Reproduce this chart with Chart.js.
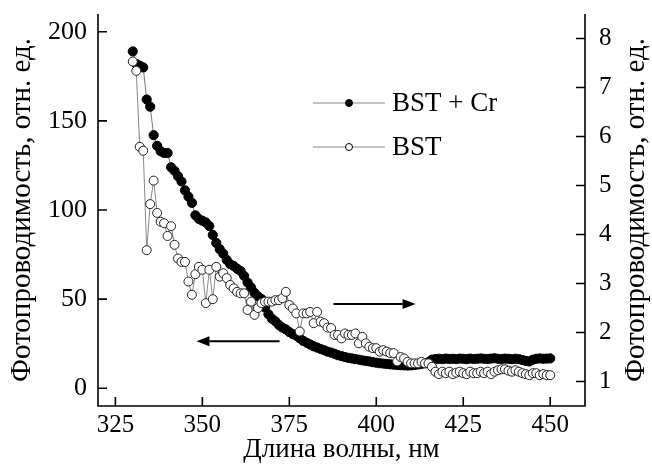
<!DOCTYPE html>
<html>
<head>
<meta charset="utf-8">
<script src="https://cdn.jsdelivr.net/npm/chart.js@4.4.0/dist/chart.umd.min.js"></script>
<style>
    html, body { margin: 0; padding: 0; background: #fff; }
    #caixa { width: 652px; height: 466px; }
</style>
</head>
<body>
<div id="caixa"><canvas id="grafico" width="652" height="466"></canvas></div>
<script>
// длина волны, нм
const dlinaVolny = [
    330, 331, 332, 333, 334, 335, 336, 337, 338, 339,
    340, 341, 342, 343, 344, 345, 346, 347, 348, 349,
    350, 351, 352, 353, 354, 355, 356, 357, 358, 359,
    360, 361, 362, 363, 364, 365, 366, 367, 368, 369,
    370, 371, 372, 373, 374, 375, 376, 377, 378, 379,
    380, 381, 382, 383, 384, 385, 386, 387, 388, 389,
    390, 391, 392, 393, 394, 395, 396, 397, 398, 399,
    400, 401, 402, 403, 404, 405, 406, 407, 408, 409,
    410, 411, 412, 413, 414, 415, 416, 417, 418, 419,
    420, 421, 422, 423, 424, 425, 426, 427, 428, 429,
    430, 431, 432, 433, 434, 435, 436, 437, 438, 439,
    440, 441, 442, 443, 444, 445, 446, 447, 448, 449,
    450
];

// BST + Cr, левая ось
const bstCr = [
    189, 182, 181, 180, 162, 158, 142, 136, 133, 132,
    132, 124, 122, 119, 116, 111, 107.5, 104, 97, 95,
    94, 93, 91, 86, 81.5, 78, 75.5, 72, 69.6, 68.6,
    67, 65.8, 63, 59.3, 56.5, 53.5, 51.5, 50, 45.3, 41.5,
    39, 37.5, 35.5, 34, 33, 31.5, 30.3, 29.5, 28, 26.5,
    25.5, 24.5, 23.5, 22.8, 22, 21.3, 20.5, 20, 19.3, 18.5,
    18, 17.5, 17, 16.7, 16.3, 16, 15.6, 15.3, 15, 14.6,
    14.3, 14, 13.8, 13.6, 13.4, 13.2, 13, 12.9, 12.8, 12.7,
    12.8, 13, 13.3, 13.6, 14, 14.6, 16, 16.3, 16.5, 16.3,
    16.6, 16.4, 16.5, 16.3, 16.6, 16.5, 16.3, 16.6, 16.4, 16.5,
    16.7, 16.5, 16.4, 16.6, 16.8, 16.5, 16.4, 16.6, 16.5, 16.3,
    16.5, 16.3, 15.8, 15.3, 15, 16, 16.5, 16.7, 16.5, 16.6,
    16.7
];

// BST, правая ось
const bst = [
    7.53, 7.34, 5.79, 5.71, 3.68, 4.62, 5.1, 4.44, 4.26, 4.23,
    3.97, 4.17, 3.79, 3.51, 3.44, 3.44, 3.04, 2.77, 3.19, 3.34,
    3.28, 2.6, 3.28, 2.68, 3.34, 3.14, 3.21, 3.11, 2.97, 2.9,
    2.83, 2.8, 2.8, 2.46, 2.63, 2.36, 2.5, 2.6, 2.63, 2.63,
    2.63, 2.66, 2.66, 2.7, 2.83, 2.56, 2.49, 2.39, 2.02, 2.39,
    2.39, 2.42, 2.19, 2.42, 2.22, 2.19, 2.1, 2.09, 1.95, 1.95,
    1.88, 1.98, 1.95, 1.95, 1.98, 1.78, 1.91, 1.78, 1.71, 1.68,
    1.68, 1.61, 1.64, 1.61, 1.58, 1.58, 1.41, 1.5, 1.47, 1.4,
    1.37, 1.37, 1.37, 1.4, 1.37, 1.37, 1.3, 1.2, 1.15, 1.2,
    1.17, 1.2, 1.15, 1.18, 1.2, 1.17, 1.15, 1.2, 1.17, 1.17,
    1.2, 1.17, 1.2, 1.15, 1.2, 1.23, 1.25, 1.25, 1.22, 1.2,
    1.23, 1.2, 1.17, 1.15, 1.13, 1.17, 1.17, 1.13, 1.15, 1.13,
    1.13
];

const ticksX = [325, 350, 375, 400, 425, 450];
const ticksEsq = [0, 50, 100, 150, 200];
const ticksDir = [1, 2, 3, 4, 5, 6, 7, 8];

const tituloY = "Фотопроводимость, отн. ед.";
const tituloX = "Длина волны, нм";

const fonte = "'Liberation Serif', 'Times New Roman', serif";

function pontos(xs, ys) {
    return xs.map((x, i) => ({ x: x, y: ys[i] }));
}

function fixarTicks(lista) {
    return function (escala) {
        escala.ticks = lista.map(v => ({ value: v }));
    };
}

// largura fixa do eixo vertical e sem folga extra em cima/embaixo
function larguraFixa(w) {
    return function (escala) {
        escala.width = w;
        escala.paddingTop = 0;
        escala.paddingBottom = 0;
    };
}

// seta simples entre dois pontos
function seta(ctx, x1, y1, x2, y2) {
    const ang = Math.atan2(y2 - y1, x2 - x1);
    const cab = 13;
    ctx.beginPath();
    ctx.moveTo(x1, y1);
    ctx.lineTo(x2 - cab * Math.cos(ang), y2 - cab * Math.sin(ang));
    ctx.stroke();
    ctx.beginPath();
    ctx.moveTo(x2, y2);
    ctx.lineTo(x2 - cab * Math.cos(ang) + 5 * Math.sin(ang), y2 - cab * Math.sin(ang) - 5 * Math.cos(ang));
    ctx.lineTo(x2 - cab * Math.cos(ang) - 5 * Math.sin(ang), y2 - cab * Math.sin(ang) + 5 * Math.cos(ang));
    ctx.closePath();
    ctx.fill();
}

const extras = {
    id: "extras",
    afterDraw(chart) {
        const ctx = chart.ctx;
        const { left, right, top, bottom } = chart.chartArea;
        const sx = chart.scales.x;
        const se = chart.scales.yEsq;
        const sd = chart.scales.yDir;

        ctx.save();
        ctx.strokeStyle = "#000";
        ctx.fillStyle = "#000";
        ctx.lineWidth = 1.6;

        // eixos (sem linha de cima)
        ctx.beginPath();
        ctx.moveTo(left, top);
        ctx.lineTo(left, bottom);
        ctx.lineTo(right, bottom);
        ctx.lineTo(right, top);
        ctx.stroke();

        // ticks para dentro
        const tl = 9;
        ctx.beginPath();
        ticksX.forEach(v => {
            const p = sx.getPixelForValue(v);
            ctx.moveTo(p, bottom);
            ctx.lineTo(p, bottom - tl);
        });
        ticksEsq.forEach(v => {
            const p = se.getPixelForValue(v);
            ctx.moveTo(left, p);
            ctx.lineTo(left + tl, p);
        });
        ticksDir.forEach(v => {
            const p = sd.getPixelForValue(v);
            ctx.moveTo(right, p);
            ctx.lineTo(right - tl, p);
        });
        ctx.stroke();

        // setas indicando o eixo de cada curva
        ctx.lineWidth = 2;
        seta(ctx, sx.getPixelForValue(372.2), se.getPixelForValue(26.4),
                  sx.getPixelForValue(348.3), se.getPixelForValue(26.4));
        seta(ctx, sx.getPixelForValue(387.7), sd.getPixelForValue(2.58),
                  sx.getPixelForValue(411.3), sd.getPixelForValue(2.58));

        // legenda
        const itens = chart.data.datasets;
        const lx = 313, lw = 72;
        const ly = [103, 147];
        ctx.font = "27px " + fonte;
        ctx.textBaseline = "middle";
        ctx.textAlign = "left";
        itens.slice().sort((a, b) => a.ordemLegenda - b.ordemLegenda).forEach((ds, i) => {
            ctx.strokeStyle = "#888";
            ctx.lineWidth = 1;
            ctx.beginPath();
            ctx.moveTo(lx, ly[i]);
            ctx.lineTo(lx + lw, ly[i]);
            ctx.stroke();
            ctx.beginPath();
            ctx.arc(lx + lw / 2, ly[i], 3.5, 0, Math.PI * 2);
            ctx.fillStyle = ds.pointBackgroundColor;
            ctx.fill();
            ctx.strokeStyle = "#000";
            ctx.stroke();
            ctx.fillStyle = "#000";
            ctx.fillText(ds.label, lx + lw + 7, ly[i] + 1);
        });

        // título do eixo direito, lido de baixo para cima
        ctx.font = "29px " + fonte;
        ctx.textAlign = "center";
        ctx.translate(636, (top + bottom) / 2);
        ctx.rotate(-Math.PI / 2);
        ctx.fillText(tituloY, 0, 0);
        ctx.restore();
    }
};

new Chart(document.getElementById("grafico"), {
    type: "line",
    data: {
        datasets: [
            {
                label: "BST",
                ordemLegenda: 1,
                data: pontos(dlinaVolny, bst),
                yAxisID: "yDir",
                borderColor: "#888",
                borderWidth: 1,
                pointRadius: 4.5,
                pointBorderWidth: 1,
                pointBorderColor: "#222",
                pointBackgroundColor: "#fff",
                tension: 0,
                order: 1
            },
            {
                label: "BST + Cr",
                ordemLegenda: 0,
                data: pontos(dlinaVolny, bstCr),
                yAxisID: "yEsq",
                borderColor: "#777",
                borderWidth: 1,
                pointRadius: 4.6,
                pointBorderWidth: 1,
                pointBorderColor: "#000",
                pointBackgroundColor: "#000",
                tension: 0,
                order: 2
            }
        ]
    },
    options: {
        responsive: false,
        animation: false,
        layout: { padding: { top: 14, left: 0, right: 0, bottom: 0 } },
        plugins: {
            legend: { display: false },
            tooltip: { enabled: false }
        },
        scales: {
            x: {
                type: "linear",
                min: 320,
                max: 460,
                afterBuildTicks: fixarTicks(ticksX),
                afterFit: s => { s.height = 60; },
                grid: { display: false, drawTicks: false },
                border: { display: false },
                ticks: { color: "#000", padding: 4, font: { family: fonte, size: 25 } },
                title: { display: true, text: tituloX, color: "#000", padding: 0, font: { family: fonte, size: 27 } }
            },
            yEsq: {
                type: "linear",
                position: "left",
                min: -10,
                max: 210,
                afterBuildTicks: fixarTicks(ticksEsq),
                afterFit: larguraFixa(98),
                grid: { display: false, drawTicks: false },
                border: { display: false },
                ticks: { color: "#000", padding: 11, font: { family: fonte, size: 26 } },
                title: { display: true, text: tituloY, color: "#000", padding: { top: 5 }, font: { family: fonte, size: 29 } }
            },
            yDir: {
                type: "linear",
                position: "right",
                min: 0.5,
                max: 8.5,
                afterBuildTicks: fixarTicks(ticksDir),
                afterFit: larguraFixa(67),
                grid: { display: false, drawTicks: false },
                border: { display: false },
                ticks: { color: "#000", padding: 14, font: { family: fonte, size: 25 } }
            }
        }
    },
    plugins: [extras]
});
</script>
</body>
</html>
